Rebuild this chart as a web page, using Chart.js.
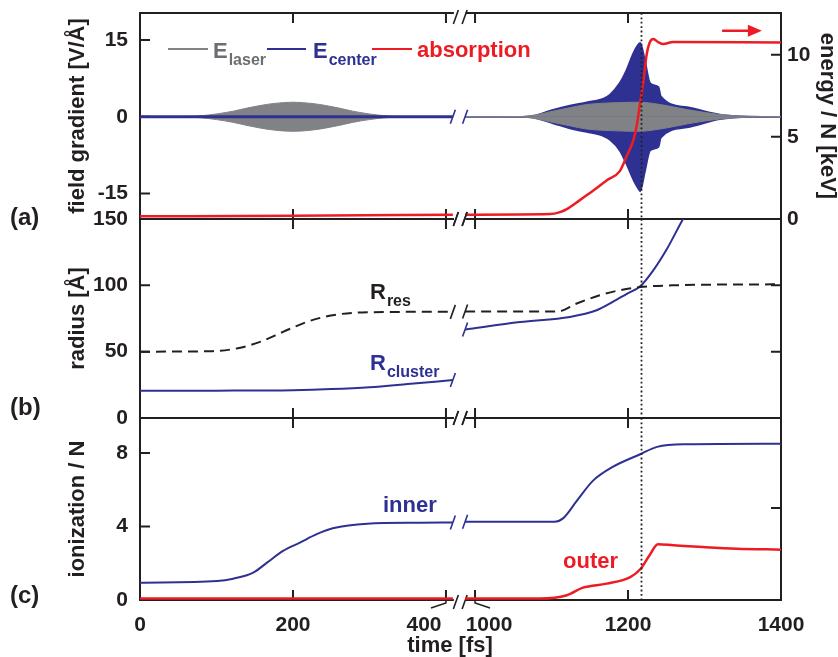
<!DOCTYPE html>
<html><head><meta charset="utf-8">
<script src="https://cdn.jsdelivr.net/npm/chart.js@4.4.1/dist/chart.umd.min.js"></script>
<style>
html,body{margin:0;padding:0;background:#fff;}
#wrap{position:relative;width:838px;height:657px;overflow:hidden;}
canvas{position:absolute;left:0;top:0;width:838px;height:657px;}
</style></head><body>
<div id="wrap">
<canvas id="ca" width="838" height="657"></canvas>
<canvas id="cb" width="838" height="657"></canvas>
<canvas id="cc" width="838" height="657"></canvas>
</div>
<script>
// ================= DATA =================
// tick labels
const timeTicks   = [0, 200, 400, 1000, 1200, 1400];   // fs
const fieldTicks  = [-15, 0, 15];                       // V/Å
const energyTicks = [0, 5, 10];                         // keV
const radiusTicks = [0, 50, 100, 150];                  // Å
const ionTicks    = [0, 4, 8];
const ionRightTicks = [5];                              // unlabelled tick on the right frame of (c)

// time of the dotted marker (fs)
const tMarker = 1217;

// (a) laser field envelope (V/Å)
const tLaserL = [0, 60, 80, 100, 122, 140, 157, 175, 200, 225, 243, 260, 278, 300, 320, 340, 409];
const laserL  = [0, 0.03, 0.2, 0.55, 1.1, 1.7, 2.2, 2.6, 2.85, 2.6, 2.2, 1.7, 1.1, 0.55, 0.2, 0.03, 0];
const tLaserR = [987, 1060, 1080, 1102, 1125, 1146, 1175, 1200, 1215, 1233, 1255, 1277, 1300, 1320, 1345, 1368, 1400];
const laserR  = [0, 0.05, 0.4, 1.1, 1.8, 2.4, 2.7, 2.82, 2.85, 2.6, 2.05, 1.4, 0.85, 0.45, 0.15, 0.02, 0];

// (a) field at cluster center (V/Å): upper / lower envelope
const tCenterL  = [0, 409];
const centerL   = [0, 0];
const tCenterR  = [987, 1050, 1072, 1102, 1124, 1146, 1168, 1176, 1189, 1198, 1207, 1213, 1216, 1222, 1229, 1240, 1243, 1277, 1320, 1363, 1400];
const centerUpR = [0, 0, 0.1, 1.4, 2.2, 2.85, 3.6, 4.3, 6.6, 9.2, 12.5, 14.1, 14.5, 11.2, 6.6, 5.8, 4.0, 1.9, 0.45, 0.05, 0];
const centerLoR = [0, 0, -0.1, -1.3, -2.3, -3.0, -3.8, -4.5, -6.6, -9.3, -12.4, -14.0, -14.6, -10.9, -6.6, -5.9, -4.1, -2.1, -0.5, -0.05, 0];

// (a) absorbed energy per atom (keV)
const tAbsL = [0, 200, 409];
const absL  = [0.16, 0.2, 0.26];
const tAbsR = [987, 1098, 1110, 1120, 1137, 1155, 1172, 1189, 1198, 1207, 1211, 1216, 1221, 1224, 1228, 1233, 1240, 1246, 1259, 1400];
const absR  = [0.26, 0.3, 0.4, 0.6, 1.15, 1.75, 2.35, 2.9, 3.8, 4.8, 5.6, 7.1, 8.7, 9.9, 10.7, 10.96, 10.75, 10.65, 10.77, 10.75];

// (b) radii (Å)
const tResL = [0, 95, 128, 157, 187, 218, 252, 297, 366, 409];
const resL  = [50, 50.4, 52.6, 57.4, 64.9, 72.4, 77.5, 79.7, 80, 80];
const tResR = [987, 1108, 1133, 1163, 1189, 1216, 1259, 1400];
const resR  = [80.3, 80.3, 86.3, 92.5, 96.3, 98.7, 100, 100.8];

const tClusterL = [0, 100, 200, 250, 300, 350, 409];
const clusterL  = [20.5, 20.6, 21, 21.8, 23.2, 25.6, 28.6];
const tClusterR = [987, 1059, 1124, 1159, 1180, 1199, 1216, 1233, 1251, 1272, 1285];
const clusterR  = [66.7, 72.4, 76.2, 81.2, 87.5, 93.8, 99.3, 111.3, 127.6, 150, 162];

// (c) ionization per atom
const tInnerL = [0, 101, 122, 148, 166, 187, 209, 231, 252, 297, 366, 409];
const innerL  = [0.94, 1.03, 1.16, 1.49, 2.03, 2.67, 3.12, 3.58, 3.9, 4.15, 4.2, 4.22];
const tInnerR = [987, 1104, 1115, 1133, 1154, 1180, 1216, 1238, 1277, 1400];
const innerR  = [4.26, 4.26, 4.44, 5.39, 6.48, 7.24, 7.93, 8.33, 8.47, 8.5];
const tOuterL = [0, 409];
const outerL  = [0.08, 0.08];
const tOuterR = [987, 1085, 1120, 1141, 1172, 1203, 1216, 1229, 1239, 1259, 1298, 1342, 1400];
const outerR  = [0.08, 0.08, 0.26, 0.67, 0.89, 1.25, 1.67, 2.49, 3.03, 2.98, 2.88, 2.79, 2.74];

// ================= STYLE / HELPERS =================
const INK = '#231f20', BLUE = '#2e3192', RED = '#ed1c24', GRAY = '#808285', GRAYTXT = '#6d6e71';
const FAM = '"Liberation Sans", Arial, Helvetica, sans-serif';
const font = s => `bold ${s}px ${FAM}`;

const SHIFT = 562;                               // fs cut out by the axis break
const toAxis = t => (t > 700 ? t - SHIFT : t);   // broken time axis -> continuous axis
const pts = (ts, vs) => ts.map((t, i) => ({ x: toAxis(t), y: vs[i] }));
const neg = vs => vs.map(v => -v);

function line(data, color, width, extra) {
  return Object.assign({ data, borderColor: color, backgroundColor: color, borderWidth: width, fill: false, pointRadius: 0 }, extra || {});
}

function yAxis(o) {
  return {
    type: 'linear', position: o.pos, min: o.min, max: o.max,
    afterBuildTicks: s => { s.ticks = o.ticks.map(v => ({ value: v })); },
    afterFit: s => { s.width = o.width; },
    // invisible tick marks give the label gap without adding layout padding
    grid: { display: true, drawOnChartArea: false, drawTicks: true, tickLength: o.pad, color: 'rgba(0,0,0,0)' },
    border: { display: false },
    ticks: { autoSkip: false, padding: 0, color: INK, font: { family: FAM, weight: 'bold', size: 21 }, callback: v => String(v) },
    title: { display: true, text: o.title, color: INK, font: { family: FAM, weight: 'bold', size: 22, lineHeight: 1 }, padding: { top: o.tpad, bottom: 0 } }
  };
}

function options(pad, yScales) {
  return {
    responsive: false, animation: false, devicePixelRatio: 1, events: [],
    layout: { padding: pad },
    plugins: { legend: { display: false }, tooltip: { enabled: false } },
    elements: { point: { radius: 0 }, line: { cubicInterpolationMode: 'monotone' } },
    scales: Object.assign({ x: { type: 'linear', min: 0, max: 838, display: false } }, yScales)
  };
}

function slash(ctx, px, py, color, w) {
  ctx.save(); ctx.strokeStyle = color; ctx.lineWidth = w || 1.6; ctx.lineCap = 'butt';
  ctx.beginPath(); ctx.moveTo(px - 2.5, py + 7); ctx.lineTo(px + 2.5, py - 7); ctx.stroke(); ctx.restore();
}

function drawFrame(chart, spec) {
  const { ctx, chartArea: a, scales } = chart, x = scales.x, L = 10;
  const gL = x.getPixelForValue(409), gR = x.getPixelForValue(427);
  ctx.save();
  ctx.strokeStyle = INK; ctx.lineWidth = 2; ctx.lineCap = 'square'; ctx.lineJoin = 'miter';
  ctx.beginPath();
  ctx.moveTo(gL, a.top); ctx.lineTo(a.left, a.top); ctx.lineTo(a.left, a.bottom); ctx.lineTo(gL, a.bottom);
  ctx.moveTo(gR, a.top); ctx.lineTo(a.right, a.top); ctx.lineTo(a.right, a.bottom); ctx.lineTo(gR, a.bottom);
  ctx.stroke();
  ctx.lineCap = 'butt';
  ctx.beginPath();
  timeTicks.forEach(t => {
    const px = x.getPixelForValue(toAxis(t));
    if (px <= a.left + 1 || px >= a.right - 1) return;
    ctx.moveTo(px, a.top); ctx.lineTo(px, a.top + L);
    ctx.moveTo(px, a.bottom); ctx.lineTo(px, a.bottom - L);
  });
  const yl = scales[spec.leftId];
  spec.left.forEach(v => {
    const py = yl.getPixelForValue(v);
    if (py <= a.top + 1 || py >= a.bottom - 1) return;
    ctx.moveTo(a.left, py); ctx.lineTo(a.left + L, py);
  });
  const yr = scales[spec.rightId];
  spec.right.forEach(v => {
    const py = yr.getPixelForValue(v);
    if (py <= a.top + 1 || py >= a.bottom - 1) return;
    ctx.moveTo(a.right, py); ctx.lineTo(a.right - L, py);
  });
  ctx.stroke();
  ctx.restore();
  // axis break marks
  slash(ctx, gL + 3, a.top + (spec.topShift || 0), INK, 1.6);
  slash(ctx, gR - 2, a.top + (spec.topShift || 0), INK, 1.6);
  slash(ctx, gL + 3, a.bottom + (spec.botShift || 0), INK, 1.6);
  slash(ctx, gR - 2, a.bottom + (spec.botShift || 0), INK, 1.6);
}

function drawMarker(chart) {
  const { ctx, chartArea: a, scales: { x } } = chart;
  const px = Math.round(x.getPixelForValue(toAxis(tMarker))) + 0.5;
  ctx.save(); ctx.strokeStyle = INK; ctx.lineWidth = 1.8; ctx.setLineDash([1.8, 2.6]);
  ctx.beginPath(); ctx.moveTo(px, a.top); ctx.lineTo(px, a.bottom); ctx.stroke(); ctx.restore();
}

function seriesBreaks(chart, yId, pairs) {
  const { ctx, scales } = chart, x = scales.x, y = scales[yId];
  pairs.forEach(([t, v, c]) => slash(ctx, x.getPixelForValue(toAxis(t)), y.getPixelForValue(v), c, 1.6));
}

function text(ctx, s, x, y, size, color, align) {
  ctx.font = font(size); ctx.fillStyle = color; ctx.textAlign = align || 'left'; ctx.textBaseline = 'alphabetic';
  ctx.fillText(s, x, y);
}
function subText(ctx, main, sub, x, y, color) {
  text(ctx, main, x, y, 22, color);
  ctx.font = font(22);
  const w = ctx.measureText(main).width;
  text(ctx, sub, x + w + 1, y + 7, 16, color);
}

// ================= PANEL (a) =================
new Chart(document.getElementById('ca'), {
  type: 'line',
  data: { datasets: [
    line(pts(tCenterR, centerUpR), BLUE, 1.5, { fill: 'origin', order: 5 }),
    line(pts(tCenterR, centerLoR), BLUE, 1.5, { fill: 'origin', order: 5 }),
    line(pts(tLaserL, laserL), GRAY, 1, { fill: 'origin', order: 4 }),
    line(pts(tLaserL, neg(laserL)), GRAY, 1, { fill: 'origin', order: 4 }),
    line(pts(tLaserR, laserR), GRAY, 1, { fill: 'origin', order: 4 }),
    line(pts(tLaserR, neg(laserR)), GRAY, 1, { fill: 'origin', order: 4 }),
    line(pts(tCenterL, centerL), BLUE, 3, { order: 3 }),
    line(pts(tAbsL, absL), RED, 2.5, { yAxisID: 'y2', order: 1 }),
    line(pts(tAbsR, absR), RED, 2.5, { yAxisID: 'y2', order: 1 })
  ] },
  options: options({ left: 0, right: 0, top: 13, bottom: 438 }, {
    y:  yAxis({ pos: 'left', min: -20, max: 20.3, ticks: fieldTicks, width: 140, pad: 12, title: 'field gradient [V/Å]', tpad: 67 }),
    y2: yAxis({ pos: 'right', min: 0, max: 12.54, ticks: energyTicks, width: 57, pad: 6, title: 'energy / N [keV]', tpad: 0 })
  }),
  plugins: [{
    id: 'panelA',
    beforeDatasetsDraw(chart) { drawFrame(chart, { leftId: 'y', left: fieldTicks, rightId: 'y2', right: energyTicks, topShift: 4 }); },
    afterDatasetsDraw(chart) {
      const { ctx, scales } = chart;
      drawMarker(chart);
      seriesBreaks(chart, 'y', [[409, 0, BLUE], [987, 0, BLUE]]);
      // legend
      ctx.save();
      ctx.lineWidth = 2;
      [[168, 208, GRAY], [267, 306, BLUE], [372, 412, RED]].forEach(([a, b, c]) => {
        ctx.strokeStyle = c; ctx.beginPath(); ctx.moveTo(a, 49); ctx.lineTo(b, 49); ctx.stroke();
      });
      subText(ctx, 'E', 'laser', 213, 58, GRAYTXT);
      subText(ctx, 'E', 'center', 313, 58, BLUE);
      text(ctx, 'absorption', 417, 57, 22, RED);
      // arrow pointing to the right axis
      const x = scales.x, y2 = scales.y2;
      const ay = y2.getPixelForValue(11.46), ax0 = x.getPixelForValue(toAxis(1323)), ax1 = x.getPixelForValue(toAxis(1375));
      ctx.strokeStyle = RED; ctx.fillStyle = RED; ctx.lineWidth = 2.5;
      ctx.beginPath(); ctx.moveTo(ax0, ay); ctx.lineTo(ax1 - 12, ay); ctx.stroke();
      ctx.beginPath(); ctx.moveTo(ax1, ay); ctx.lineTo(ax1 - 14, ay - 6); ctx.lineTo(ax1 - 14, ay + 6); ctx.closePath(); ctx.fill();
      text(ctx, '(a)', 10, 225, 24, INK);
      ctx.restore();
    }
  }]
});

// ================= PANEL (b) =================
new Chart(document.getElementById('cb'), {
  type: 'line',
  data: { datasets: [
    line(pts(tResL, resL), INK, 2, { borderDash: [10, 6] }),
    line(pts(tResR, resR), INK, 2, { borderDash: [10, 6] }),
    line(pts(tClusterL, clusterL), BLUE, 2),
    line(pts(tClusterR, clusterR), BLUE, 2)
  ] },
  options: options({ left: 0, right: 57, top: 219, bottom: 239 }, {
    y: yAxis({ pos: 'left', min: 0, max: 150, ticks: radiusTicks, width: 140, pad: 12, title: 'radius [Å]', tpad: 67 })
  }),
  plugins: [{
    id: 'panelB',
    beforeDatasetsDraw(chart) { drawFrame(chart, { leftId: 'y', left: radiusTicks, rightId: 'y', right: radiusTicks }); },
    afterDatasetsDraw(chart) {
      const { ctx } = chart;
      drawMarker(chart);
      seriesBreaks(chart, 'y', [
        [409, resL[resL.length - 1], INK], [987, resR[0], INK],
        [409, clusterL[clusterL.length - 1], BLUE], [987, clusterR[0], BLUE]
      ]);
      ctx.save();
      subText(ctx, 'R', 'res', 370, 299, INK);
      subText(ctx, 'R', 'cluster', 370, 370, BLUE);
      text(ctx, '(b)', 10, 415, 24, INK);
      ctx.restore();
    }
  }]
});

// ================= PANEL (c) =================
new Chart(document.getElementById('cc'), {
  type: 'line',
  data: { datasets: [
    line(pts(tInnerL, innerL), BLUE, 2),
    line(pts(tInnerR, innerR), BLUE, 2),
    line(pts(tOuterL, outerL), RED, 2.5),
    line(pts(tOuterR, outerR), RED, 2.5)
  ] },
  options: options({ left: 0, right: 57, top: 418, bottom: 57 }, {
    y: yAxis({ pos: 'left', min: 0, max: 9.9, ticks: ionTicks, width: 140, pad: 12, title: 'ionization / N', tpad: 67 })
  }),
  plugins: [{
    id: 'panelC',
    beforeDatasetsDraw(chart) { drawFrame(chart, { leftId: 'y', left: ionTicks, rightId: 'y', right: ionRightTicks, botShift: 2 }); },
    afterDatasetsDraw(chart) {
      const { ctx, chartArea: a, scales: { x } } = chart;
      drawMarker(chart);
      seriesBreaks(chart, 'y', [[409, innerL[innerL.length - 1], BLUE], [987, innerR[0], BLUE]]);
      ctx.save();
      // time tick labels (the two next to the break are pushed apart with leader lines)
      const shift = { 400: -22, 1000: 14 };
      timeTicks.forEach(t => {
        const px = x.getPixelForValue(toAxis(t));
        text(ctx, String(t), px + (shift[t] || 0), 631, 21, INK, 'center');
        if (shift[t]) {
          const d = Math.sign(shift[t]);
          ctx.strokeStyle = INK; ctx.lineWidth = 1.5;
          ctx.beginPath(); ctx.moveTo(px, a.bottom); ctx.lineTo(px, a.bottom + 3); ctx.lineTo(px + d * 15, a.bottom + 8); ctx.stroke();
        }
      });
      text(ctx, 'time [fs]', 450, 652, 22, INK, 'center');
      text(ctx, 'inner', 383, 512, 22, BLUE);
      text(ctx, 'outer', 563, 568, 22, RED);
      text(ctx, '(c)', 10, 603, 24, INK);
      ctx.restore();
    }
  }]
});
</script>
</body></html>
